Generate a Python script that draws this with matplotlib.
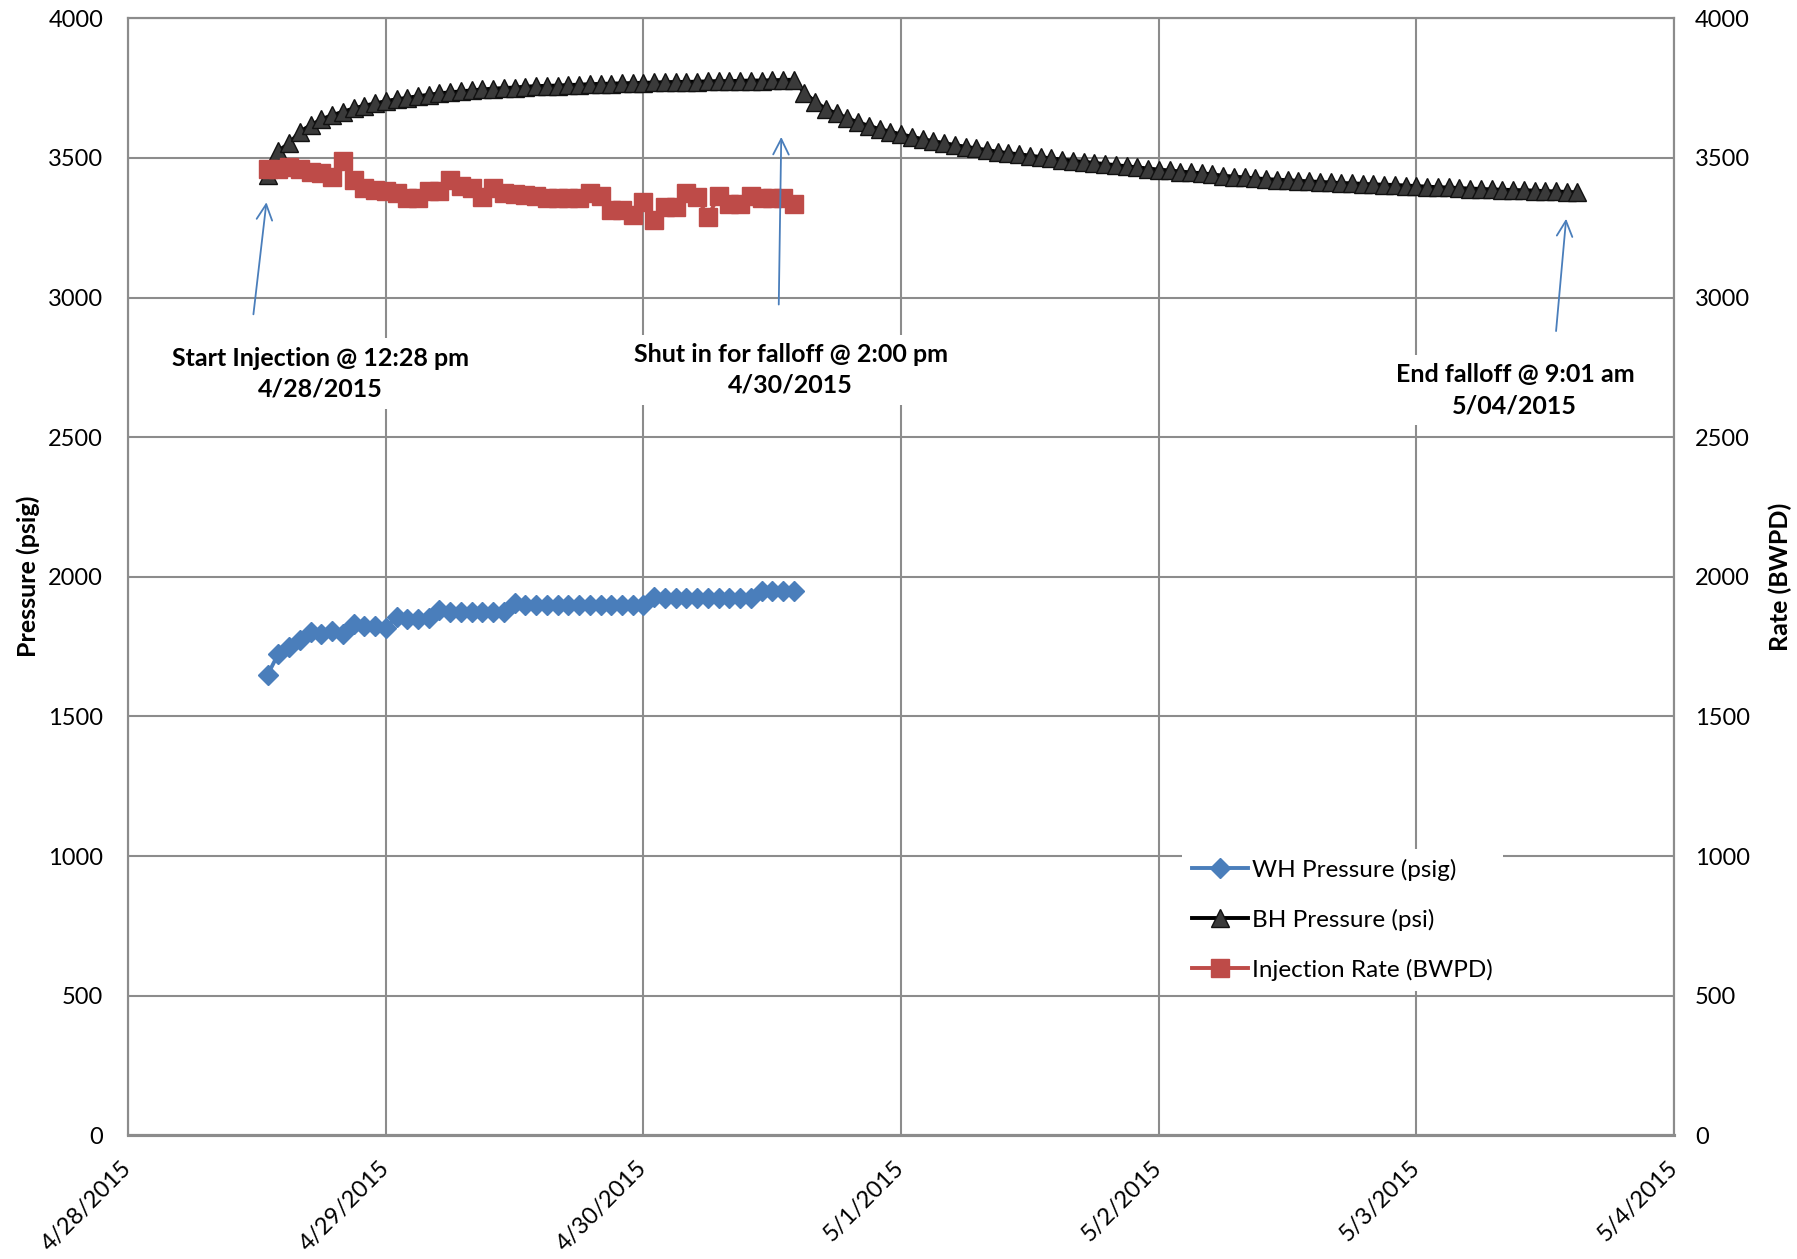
import numpy as np
import pandas as pd
import matplotlib
matplotlib.use("Agg")
import matplotlib.pyplot as plt
import matplotlib.dates as mdates
from matplotlib.ticker import FuncFormatter

plt.rcParams['font.family'] = ['Lato', 'DejaVu Sans']

# hourly readings, first one at 4/28/2015 13:00
start_time = "2015-04-28 13:00"

wh_pressure = [1650, 1725, 1750, 1775, 1803, 1796, 1806, 1796, 1831, 1824,
               1824, 1815, 1857, 1848, 1848, 1852, 1881, 1875, 1875, 1873,
               1873, 1875, 1875, 1907, 1899, 1899, 1899, 1899, 1899, 1899,
               1899, 1899, 1899, 1899, 1899, 1899, 1926, 1924, 1924, 1924,
               1924, 1924, 1924, 1924, 1924, 1924, 1948, 1948, 1948, 1948]

bh_pressure = [3440, 3526, 3552, 3594, 3617, 3638, 3653, 3665, 3677, 3687,
               3695, 3703, 3710, 3715, 3721, 3726, 3731, 3735, 3738, 3742,
               3745, 3748, 3750, 3752, 3755, 3757, 3758, 3759, 3761, 3762,
               3764, 3765, 3766, 3767, 3768, 3769, 3770, 3771, 3772, 3772,
               3773, 3774, 3775, 3775, 3776, 3777, 3777, 3778, 3779, 3780,
               3733, 3701, 3675, 3659, 3642, 3627, 3615, 3603, 3594, 3584,
               3576, 3567, 3560, 3553, 3546, 3540, 3534, 3528, 3522, 3517,
               3513, 3508, 3503, 3498, 3494, 3490, 3486, 3482, 3478, 3474,
               3470, 3466, 3462, 3458, 3455, 3451, 3448, 3445, 3441, 3436,
               3433, 3430, 3427, 3424, 3422, 3420, 3418, 3416, 3414, 3412,
               3410, 3409, 3407, 3405, 3404, 3403, 3401, 3399, 3397, 3395,
               3394, 3392, 3390, 3389, 3387, 3386, 3385, 3384, 3383, 3381,
               3380, 3378, 3377]

inj_rate = [3459, 3462, 3468, 3462, 3450, 3447, 3433, 3488, 3421, 3391,
            3385, 3383, 3373, 3355, 3355, 3383, 3380, 3421, 3399, 3391,
            3361, 3391, 3373, 3371, 3368, 3362, 3355, 3355, 3355, 3355,
            3373, 3364, 3313, 3313, 3295, 3343, 3277, 3325, 3325, 3373,
            3359, 3289, 3364, 3335, 3335, 3364, 3355, 3355, 3355, 3335]

x_start, x_end = "2015-04-28", "2015-05-04"

t_all = pd.date_range(start_time, periods=len(bh_pressure), freq="h")
t_inj = t_all[:len(wh_pressure)]

blue = "#4A7EBB"
red = "#BE4B48"
dark = "#3A3A3A"
grid_c = "#8C8C8C"

fig = plt.figure(figsize=(17.97, 12.59), dpi=100)
ax = fig.add_axes([0.0713, 0.0982, 0.8603, 0.8873])
ax2 = ax.twinx()

l1, = ax.plot(t_inj, wh_pressure, color=blue, lw=2.8, marker="D", ms=10.5,
              mfc=blue, mec=blue, label="WH Pressure (psig)")
l2, = ax.plot(t_all, bh_pressure, color="black", lw=2.8, marker="^", ms=13.5,
              mfc=dark, mec="#111111", mew=1.0, label="BH Pressure (psi)")
l3, = ax2.plot(t_inj, inj_rate, color=red, lw=2.8, marker="s", ms=13,
               mfc=red, mec=red, label="Injection Rate (BWPD)")

for a in (ax, ax2):
    a.set_ylim(0, 4000)
    a.set_yticks(np.arange(0, 4001, 500))
    a.set_xlim(pd.Timestamp(x_start), pd.Timestamp(x_end))
    for s in a.spines.values():
        s.set_color(grid_c)
        s.set_linewidth(1.5)
    a.spines['bottom'].set_linewidth(2.2)
    a.tick_params(length=0, labelsize=17)

ax.tick_params(axis='y', pad=18)
ax2.tick_params(axis='y', pad=15)
ax.xaxis.set_major_locator(mdates.DayLocator())
ax.xaxis.set_major_formatter(FuncFormatter(
    lambda v, p: (lambda d: f"{d.month}/{d.day}/{d.year}")(mdates.num2date(v))))
for lab in ax.get_xticklabels():
    lab.set_rotation(45)
    lab.set_ha("right")
    lab.set_va("center")
    lab.set_rotation_mode("anchor")
ax.tick_params(axis='x', pad=21)

ax.grid(True, color=grid_c, lw=1.5)
ax.set_axisbelow(True)

ax.set_ylabel("Pressure (psig)", fontsize=18, fontweight="bold")
ax.yaxis.set_label_coords(-0.057, 0.5)
ax2.set_ylabel("Rate (BWPD)", fontsize=18, fontweight="bold", rotation=90)
ax2.yaxis.set_label_coords(1.061, 0.5)

# annotations
box = dict(facecolor="white", edgecolor="none", pad=6)
arrow = dict(arrowstyle="->", color=blue, lw=1.3, mutation_scale=28)
day0 = pd.Timestamp(x_start)

def at(days):
    return day0 + pd.Timedelta(days=days)

ax2.annotate("", xy=(at(0.538), 3351), xytext=(at(0.485), 2930), arrowprops=arrow)
ax2.annotate("", xy=(at(2.535), 3585), xytext=(at(2.525), 2965), arrowprops=arrow)
ax2.annotate("", xy=(at(5.582), 3292), xytext=(at(5.541), 2870), arrowprops=arrow)

ax2.text(at(0.747), 2728, "Start Injection @ 12:28 pm\n4/28/2015", ha="center",
         va="center", fontsize=18, fontweight="bold", linespacing=1.4, bbox=box)
ax2.text(at(2.572), 2740, "Shut in for falloff @ 2:00 pm\n4/30/2015", ha="center",
         va="center", fontsize=18, fontweight="bold", linespacing=1.4, bbox=box)
ax2.text(at(5.382), 2668, "End falloff @ 9:01 am\n5/04/2015", ha="center",
         va="center", fontsize=18, fontweight="bold", linespacing=1.4, bbox=box)

leg = ax2.legend(handles=[l1, l2, l3], loc="upper left",
                 bbox_to_anchor=(1182 / 1797, 1 - 849 / 1259),
                 bbox_transform=fig.transFigure, fontsize=17.5, frameon=True,
                 fancybox=False, borderaxespad=0, borderpad=0.4,
                 handlelength=2.3, handletextpad=0.2, labelspacing=1.15)
leg.get_frame().set_facecolor("white")
leg.get_frame().set_edgecolor("none")
leg.get_frame().set_alpha(1)

fig.savefig("out.png", dpi=100)
